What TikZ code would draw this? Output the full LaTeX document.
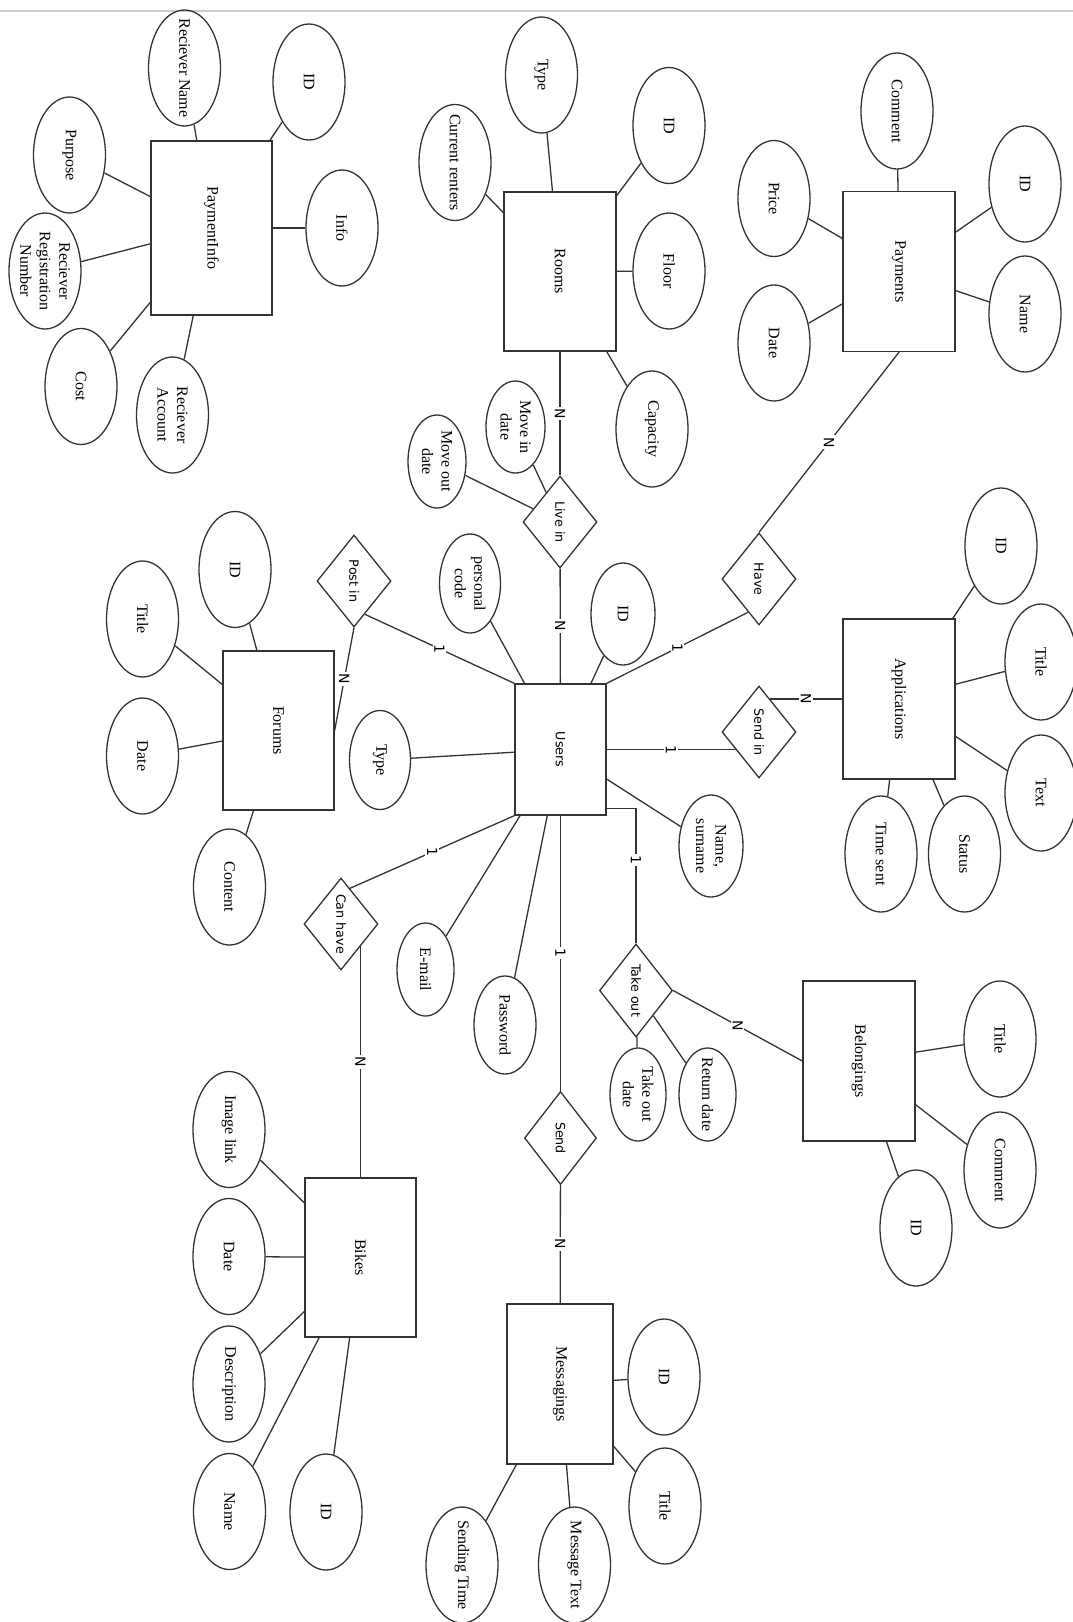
\documentclass[tikz,border=0pt]{standalone}
\usepackage{fontspec}
\setmainfont{Liberation Serif}
\newfontfamily\sansf{DejaVu Sans}
\usetikzlibrary{shapes.geometric}
\definecolor{lc}{HTML}{333333}
\definecolor{topline}{HTML}{C8CCD2}
\tikzset{
  base/.style={draw=lc, line width=1.3pt, inner sep=0pt},
  ent/.style 2 args={base, rectangle, minimum width=#1, minimum height=#2},
  att/.style={base, ellipse, minimum width=72pt, minimum height=116pt},
  atts/.style 2 args={base, ellipse, minimum width=#1, minimum height=#2},
  rel/.style={base, diamond, minimum width=74pt, minimum height=92pt},
  tx/.style={rotate=-90, align=center, inner sep=0pt, font=\fontsize{16}{19.5}\selectfont},
  sx/.style={rotate=-90, align=center, inner sep=0pt, font=\sansf\fontsize{12.7}{15}\selectfont},
  card/.style={fill=white, rotate=-90, inner sep=1.6pt, font=\sansf\fontsize{14}{16}\selectfont},
  con/.style={draw=lc, line width=1.3pt},
}
\begin{document}
\begin{tikzpicture}[x=1pt,y=-1pt]
\useasboundingbox (0,0) rectangle (1073,1622);
\clip (0,0) rectangle (1073,1622);
\draw[topline, line width=2pt] (0,11) -- (1073,11);

% ---------- PaymentInfo ----------
\node[ent={121pt}{174pt}, label={[tx]center:PaymentInfo}] (pinfo) at (211.5,228) {};
\node[att, label={[tx]center:Reciever Name}] (pirn) at (184.5,68) {};
\node[att, label={[tx]center:ID}] (piid) at (309,82) {};
\node[att, label={[tx]center:Purpose}] (pipur) at (69.5,155) {};
\node[att, label={[tx]center:{Reciever\\Registration\\Number}}] (pirrn) at (45,271) {};
\node[att, label={[tx]center:Cost}] (picost) at (81,386.5) {};
\node[att, label={[tx]center:{Reciever\\Account}}] (piacc) at (172.5,415) {};
\node[att, label={[tx]center:Info}] (piinfo) at (342,228) {};
\foreach \a in {pirn,piid,pipur,pirrn,picost,piacc,piinfo} \draw[con] (\a) -- (pinfo);

% ---------- Rooms ----------
\node[ent={112pt}{159pt}, label={[tx]center:Rooms}] (rooms) at (560,271.5) {};
\node[att, label={[tx]center:Type}] (rtype) at (541.5,75) {};
\node[att, label={[tx]center:Current renters}] (rcur) at (455,162.5) {};
\node[att, label={[tx]center:ID}] (rid) at (669,125.5) {};
\node[att, label={[tx]center:Floor}] (rfloor) at (669,271) {};
\node[att, label={[tx]center:Capacity}] (rcap) at (652,429) {};
\foreach \a in {rtype,rcur,rid,rfloor,rcap} \draw[con] (\a) -- (rooms);

% ---------- Payments ----------
\node[ent={112pt}{160pt}, label={[tx]center:Payments}] (pay) at (899,271.5) {};
\node[att, label={[tx]center:Comment}] (pcom) at (897,111) {};
\node[att, label={[tx]center:Price}] (pprice) at (774,198.5) {};
\node[att, label={[tx]center:Date}] (pdate) at (774,343) {};
\node[att, label={[tx]center:ID}] (pid) at (1025,184) {};
\node[att, label={[tx]center:Name}] (pname) at (1025,314) {};
\foreach \a in {pcom,pprice,pdate,pid,pname} \draw[con] (\a) -- (pay);

% ---------- Users ----------
\node[ent={91pt}{131pt}, label={[sx]center:Users}] (users) at (560.5,749.5) {};
\node[atts={61pt}{99pt}, label={[tx]center:{personal\\code}}] (upc) at (470,583.5) {};
\node[atts={64pt}{102pt}, label={[tx]center:ID}] (uid) at (623,614) {};
\node[atts={61pt}{99pt}, label={[tx]center:Type}] (utype) at (380,760) {};
\node[atts={64pt}{102pt}, label={[tx]center:{Name,\\surname}}] (uname) at (711,846) {};
\node[atts={57pt}{93pt}, label={[tx]center:E-mail}] (umail) at (425.5,969.5) {};
\node[atts={62pt}{98pt}, label={[tx]center:Password}] (upass) at (505,1025) {};
\foreach \a in {upc,uid,utype,uname,umail,upass} \draw[con] (\a) -- (users);

% ---------- Live in ----------
\node[rel, label={[sx]center:Live in}] (livein) at (560,522) {};
\node[atts={59pt}{92pt}, label={[tx]center:{Move in\\date}}] (movein) at (515.5,427) {};
\node[atts={58pt}{93pt}, label={[tx]center:{Move out\\date}}] (moveout) at (437,461.5) {};
\draw[con] (movein) -- (livein);
\draw[con] (moveout) -- (livein);
\draw[con] (rooms) -- node[card]{N} (livein);
\draw[con] (livein) -- node[card]{N} (users);

% ---------- Have ----------
\node[rel, label={[sx]center:Have}] (have) at (759,579) {};
\draw[con] (have.north) -- node[card]{N} (pay.south);
\draw[con] (have.252) -- node[card]{1} (users.north east);

% ---------- Applications ----------
\node[ent={112pt}{160pt}, label={[tx]center:Applications}] (apps) at (899,699) {};
\node[att, label={[tx]center:ID}] (aid) at (1001,546) {};
\node[att, label={[tx]center:Title}] (atitle) at (1041,662) {};
\node[att, label={[tx]center:Text}] (atext) at (1041,793) {};
\node[att, label={[tx]center:Time sent}] (atime) at (881,854) {};
\node[att, label={[tx]center:Status}] (astat) at (964.5,854) {};
\foreach \a in {aid,atitle,atext,atime,astat} \draw[con] (\a) -- (apps);

\node[rel, label={[sx]center:Send in}] (sendin) at (759,732) {};
\draw[con] (users.east) -- node[card]{1} (users.east -| sendin.216);
\draw[con] (apps.west) -- node[card]{N} (apps.west -| sendin.72);

% ---------- Forums ----------
\node[ent={111pt}{159pt}, label={[tx]center:Forums}] (forums) at (278.5,730.5) {};
\node[att, label={[tx]center:ID}] (fid) at (235,569.5) {};
\node[att, label={[tx]center:Title}] (ftitle) at (142.5,619) {};
\node[att, label={[tx]center:Date}] (fdate) at (142.5,756) {};
\node[att, label={[tx]center:Content}] (fcont) at (229.5,887) {};
\foreach \a in {fid,ftitle,fdate,fcont} \draw[con] (\a) -- (forums);

\node[rel, label={[sx]center:Post in}] (postin) at (354,581) {};
\draw[con] (postin.-72) -- node[card]{1} (users.north west);
\draw[con] (postin.south) -- node[card]{N} (forums.east);

% ---------- Bikes ----------
\node[ent={111pt}{159pt}, label={[tx]center:Bikes}] (bikes) at (360.5,1257.5) {};
\node[att, label={[tx]center:Image link}] (bkimg) at (229,1129.5) {};
\node[att, label={[tx]center:Date}] (bkdate) at (229,1256.5) {};
\node[att, label={[tx]center:Description}] (bkdesc) at (229,1384) {};
\node[att, label={[tx]center:Name}] (bkname) at (229.5,1511.5) {};
\node[att, label={[tx]center:ID}] (bkid) at (326,1512) {};
\foreach \a in {bkimg,bkdate,bkdesc,bkname,bkid} \draw[con] (\a) -- (bikes);

\node[rel, label={[sx]center:Can have}] (canhave) at (341,924) {};
\draw[con] (canhave.76) -- node[card]{1} (users.south west);
\draw[con] (bikes.north) -- node[card]{N} (bikes.north |- canhave.-48);

% ---------- Take out / Belongings ----------
\node[rel, minimum width=73pt, minimum height=93pt, label={[sx]center:Take out}] (takeout) at (636,990.5) {};
\node[ent={112pt}{160pt}, label={[tx]center:Belongings}] (belong) at (859,1061) {};
\node[att, label={[tx]center:Title}] (btitle) at (1000,1039) {};
\node[att, label={[tx]center:Comment}] (bcom) at (1000,1170) {};
\node[att, label={[tx]center:ID}] (bid) at (916,1228) {};
\foreach \a in {btitle,bcom,bid} \draw[con] (\a) -- (belong);
\node[atts={56pt}{93pt}, label={[tx]center:{Take out\\date}}] (tdate) at (638,1094.5) {};
\node[atts={57pt}{93pt}, label={[tx]center:Return date}] (tret) at (707.5,1094.5) {};
\draw[con] (takeout) -- (tdate);
\draw[con] (takeout) -- (tret);
\draw[con] (takeout.east) -- node[card]{N} (belong.west);
\draw[con] ([yshift=7pt]users.south east) -| node[card, pos=0.69]{1} (takeout.north);

% ---------- Send / Messagings ----------
\node[rel, minimum width=72pt, minimum height=93pt, label={[sx]center:Send}] (send) at (560.5,1138) {};
\node[ent={106pt}{160pt}, label={[tx]center:Messagings}] (msgs) at (560,1384) {};
\node[att, label={[tx]center:Sending Time}] (msend) at (462,1565) {};
\node[att, label={[tx]center:Message Text}] (mtext) at (574.5,1565) {};
\node[att, label={[tx]center:ID}] (mid) at (664,1377) {};
\node[att, label={[tx]center:Title}] (mtitle) at (665,1506) {};
\foreach \a in {msend,mtext,mid,mtitle} \draw[con] (\a) -- (msgs);
\draw[con] (users) -- node[card]{1} (send);
\draw[con] (send) -- node[card]{N} (msgs);
\end{tikzpicture}
\end{document}
